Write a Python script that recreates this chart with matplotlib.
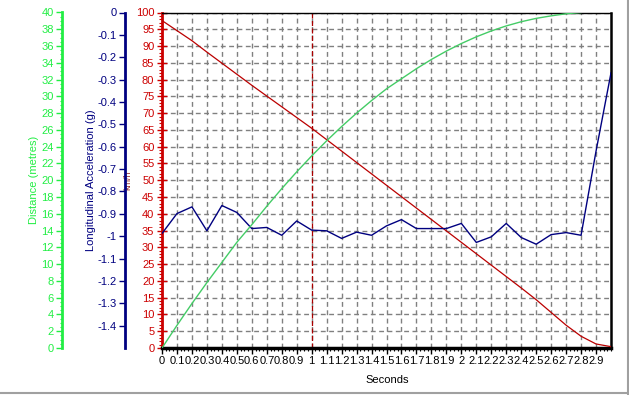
import numpy as np
import matplotlib
matplotlib.use("Agg")
import matplotlib.pyplot as plt
from matplotlib.ticker import MultipleLocator, FormatStrFormatter, FuncFormatter
from matplotlib.lines import Line2D

plt.rcParams["font.family"] = ["Liberation Sans", "DejaVu Sans"]
plt.rcParams["font.size"] = 8

# time samples (seconds)
time = [0.0, 0.1, 0.2, 0.3, 0.4, 0.5, 0.6, 0.7, 0.8, 0.9,
        1.0, 1.1, 1.2, 1.3, 1.4, 1.5, 1.6, 1.7, 1.8, 1.9,
        2.0, 2.1, 2.2, 2.3, 2.4, 2.5, 2.6, 2.7, 2.8, 2.9, 3.0]

# speed (km/h)
speed = [97.6, 94.6, 91.6, 88.2, 84.9, 81.6, 78.3, 75.1, 71.9, 68.7,
         65.5, 62.1, 58.7, 55.3, 51.9, 48.5, 45.1, 41.7, 38.3, 34.9,
         31.5, 28.1, 24.7, 21.3, 17.9, 14.4, 10.6, 6.8, 3.5, 1.2, 0.4]

# longitudinal acceleration (g)
accel = [-0.988, -0.899, -0.869, -0.976, -0.863, -0.894, -0.966, -0.961, -0.996, -0.932,
         -0.973, -0.976, -1.010, -0.982, -0.996, -0.954, -0.926, -0.966, -0.966, -0.966,
         -0.943, -1.028, -1.003, -0.943, -1.006, -1.036, -0.993, -0.984, -0.996, -0.62, -0.27]

# distance (metres), ends at 2.8 s
dist_time = time[:29]
distance = [0.0, 2.7, 5.3, 7.8, 10.2, 12.6, 14.7, 16.9, 19.0, 21.0,
            22.9, 24.7, 26.4, 28.0, 29.5, 30.9, 32.1, 33.3, 34.4, 35.4,
            36.3, 37.1, 37.8, 38.4, 38.9, 39.3, 39.6, 39.85, 40.0]

red = "#cc0000"
navy = "#000080"
green = "#22ee44"

fig = plt.figure(figsize=(6.29, 3.95), dpi=100)
ax = fig.add_axes([162 / 629, 1 - 348 / 395, 449 / 629, 335.5 / 395])

# grid
ax.set_xlim(0, 3)
ax.set_ylim(0, 100)
ax.xaxis.set_major_locator(MultipleLocator(0.1))
ax.xaxis.set_minor_locator(MultipleLocator(0.025))
ax.yaxis.set_major_locator(MultipleLocator(5))
ax.yaxis.set_minor_locator(MultipleLocator(1))
ax.grid(True, which="major", color="#808080", linestyle=(0, (3.5, 2.5)), linewidth=1)
ax.set_axisbelow(True)

xticks = [round(0.1 * i, 1) for i in range(30)]
ax.set_xticks(xticks)
ax.set_xticklabels(["%g" % v for v in xticks])
ax.tick_params(axis="x", which="major", length=4, width=1, pad=2)
ax.tick_params(axis="x", which="minor", length=2, width=0.8)
ax.tick_params(axis="y", which="major", direction="inout", length=7, width=1, colors=red, pad=2)
ax.tick_params(axis="y", which="minor", direction="out", length=2, width=0.8, colors=red)
ax.yaxis.set_major_formatter(FormatStrFormatter("%g"))

ax.spines["left"].set_color(red)
ax.spines["left"].set_linewidth(2)
ax.spines["bottom"].set_linewidth(2.5)
ax.spines["right"].set_linewidth(1.8)
ax.spines["top"].set_linewidth(1)

ax.axvline(1.0, color="#aa0000", linestyle=(0, (4, 2)), linewidth=0.9)
ax.plot(time, speed, color="#bb0000", linewidth=0.9, zorder=3)

ax.set_xlabel("Seconds")
ax.xaxis.set_label_coords(0.501, -0.08)
ax.set_ylabel("km/h", color="#993333", fontsize=6.5, va="center")
ax.yaxis.set_label_coords(-0.075, 0.5)

# acceleration axis
ax2 = ax.twinx()
ax2.set_ylim(-1.5, 0)
ax2.yaxis.set_ticks_position("left")
ax2.yaxis.set_label_position("left")
ax2.spines["left"].set_position(("axes", -0.0824))
ax2.spines["left"].set_color(navy)
ax2.spines["left"].set_linewidth(2)
for s in ["right", "top", "bottom"]:
    ax2.spines[s].set_visible(False)
ax2.set_yticks([round(-0.1 * i, 1) for i in range(15)])
ax2.yaxis.set_major_formatter(FuncFormatter(lambda v, p: "%g" % (v + 0.0) if abs(v) > 1e-9 else "0"))
ax2.tick_params(axis="y", direction="out", length=4, width=1, colors=navy, pad=2)
ax2.plot(time, accel, color=navy, linewidth=1, zorder=3)
ax2.set_ylabel("Longitudinal Acceleration (g)", color=navy, va="center")
ax2.yaxis.set_label_coords(-0.158, 0.5)

# distance axis
ax3 = ax.twinx()
ax3.set_ylim(0, 40)
ax3.yaxis.set_ticks_position("left")
ax3.yaxis.set_label_position("left")
ax3.spines["left"].set_position(("axes", -0.2227))
ax3.spines["left"].set_color(green)
ax3.spines["left"].set_linewidth(2)
for s in ["right", "top", "bottom"]:
    ax3.spines[s].set_visible(False)
ax3.yaxis.set_major_locator(MultipleLocator(2))
ax3.yaxis.set_minor_locator(MultipleLocator(0.5))
ax3.yaxis.set_major_formatter(FormatStrFormatter("%g"))
ax3.tick_params(axis="y", which="major", direction="out", length=4, width=1, colors=green, pad=2)
ax3.tick_params(axis="y", which="minor", direction="out", length=1.5, width=0.8, colors=green)
ax3.plot(dist_time, distance, color="#44cc66", linewidth=1, zorder=3)
ax3.set_ylabel("Distance (metres)", color=green, va="center")
ax3.yaxis.set_label_coords(-0.285, 0.5)

# window frame
fig.add_artist(Line2D([0, 1], [0.004, 0.004], transform=fig.transFigure, color="#a0a0a0", linewidth=1.5))
fig.add_artist(Line2D([0.998, 0.998], [0, 1], transform=fig.transFigure, color="#a0a0a0", linewidth=1.5))

fig.savefig("out.png", dpi=100)
